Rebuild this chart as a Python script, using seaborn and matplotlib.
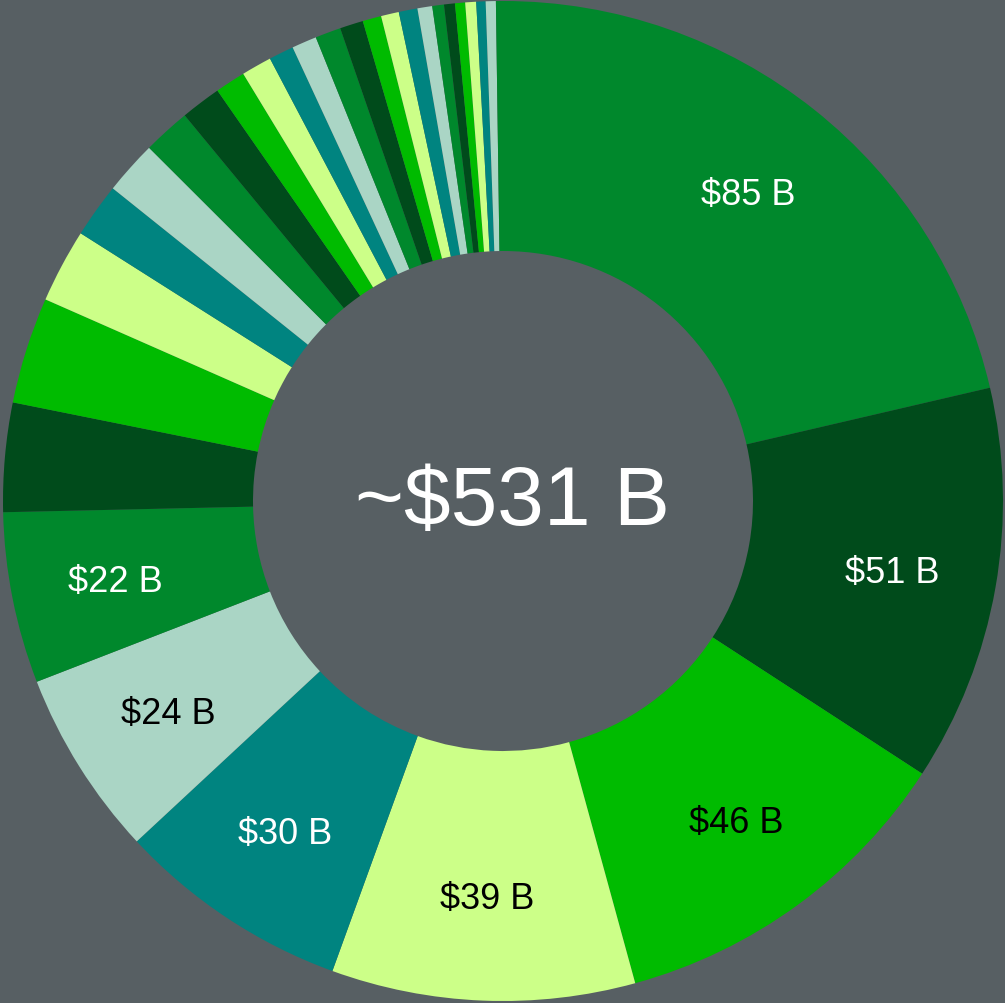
import matplotlib
matplotlib.use('Agg')
import matplotlib.pyplot as plt
import seaborn as sns
import numpy as np

sns.set_style('white')
plt.rcParams['font.family'] = ['Liberation Sans', 'DejaVu Sans']

# valores (miles de millones), en el orden de las porciones
valores = [85, 51, 46, 39, 30, 24, 22,
           14, 13.7, 9.5, 7, 6.9, 6.1, 5.2, 3.9, 3.9, 3.2, 3.2, 3.3, 3.0,
           2.4, 2.3, 2.4, 1.9, 1.5, 1.4, 1.3, 1.4, 1.2, 1.3, 0.9]
n_etiquetas = 7
total_texto = '~$531 B'

colores_base = ['#00882c', '#004b1b', '#00bb00', '#ccff88', '#008480', '#aad5c5']
texto_base = ['white', 'white', 'black', 'black', 'white', 'black']

fondo = '#575f63'
paleta = sns.color_palette(colores_base)
colores = [paleta[i % len(paleta)] for i in range(len(valores))]

fig = plt.figure(figsize=(10.05, 10.04), dpi=100, facecolor=fondo)
ax = fig.add_axes([0, 0, 1, 1])
ax.set_facecolor(fondo)

wedges, _ = ax.pie(valores, colors=colores, startangle=90, counterclock=False,
                   radius=1, wedgeprops=dict(width=0.5, linewidth=0))

# etiquetas en el centro de cada porcion grande
for i, w in enumerate(wedges[:n_etiquetas]):
    ang = np.deg2rad((w.theta1 + w.theta2) / 2)
    r = 0.79
    ax.text(r * np.cos(ang), r * np.sin(ang) - 0.006, '\\$%d B' % round(valores[i]),
            ha='center', va='center', fontsize=26,
            color=texto_base[i % len(texto_base)])

ax.text(0.018, -0.002, total_texto, ha='center', va='center', fontsize=60.5, color='white')

ax.set_xlim(-1.006, 1.004)
ax.set_ylim(-1.004, 1.004)
ax.set_aspect('equal')
ax.axis('off')

fig.savefig('out.png', dpi=100, facecolor=fondo)
